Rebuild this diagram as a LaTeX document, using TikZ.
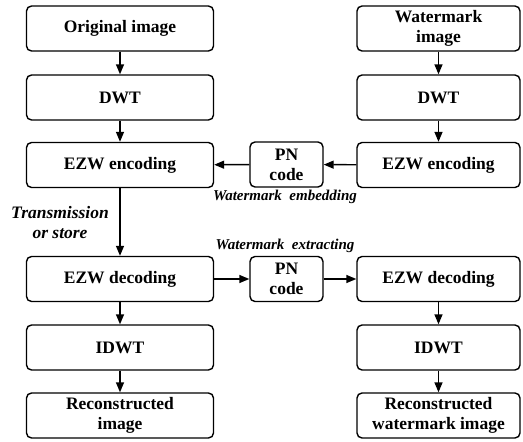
\documentclass[tikz,border=0pt]{standalone}
\usepackage{fontspec}
\setmainfont{Liberation Serif}
\usetikzlibrary{arrows.meta}

\begin{document}
\begin{tikzpicture}[x=1pt,y=-1pt,>={Triangle[length=10pt,width=8pt]},line width=1.4pt,
  box/.style={draw,rounded corners=5pt,align=center,minimum height=45pt,inner sep=0pt,
    font=\fontsize{17.5}{20}\selectfont\bfseries},
  lbox/.style={box,minimum width=187pt},
  rbox/.style={box,minimum width=163pt},
  pnbox/.style={box,minimum width=73pt},
  lbl/.style={align=center,inner sep=0pt,font=\fontsize{15}{20}\selectfont\bfseries\itshape}]
\useasboundingbox (0,0) rectangle (523,442);
\node[lbox] (orig) at (120,28.5) {Original image};
\node[lbox] (dwtL) at (120,97.5) {DWT};
\node[lbox] (encL) at (120,165) {EZW encoding};
\node[lbox] (decL) at (120,279) {EZW decoding};
\node[lbox] (idwtL) at (120,347.5) {IDWT};
\node[lbox] (recL) at (120,415.5) {Reconstructed\\image};
\node[rbox] (wm) at (438.5,28.5) {Watermark\\image};
\node[rbox] (dwtR) at (438.5,97.5) {DWT};
\node[rbox] (encR) at (438.5,165) {EZW encoding};
\node[rbox] (decR) at (438.5,279) {EZW decoding};
\node[rbox] (idwtR) at (438.5,347.5) {IDWT};
\node[rbox] (recR) at (438.5,415.5) {Reconstructed\\watermark image};
\node[pnbox] (pnE) at (286.5,164.5) {PN\\code};
\node[pnbox] (pnX) at (286.5,279) {PN\\code};
\node[lbl,font=\fontsize{17.5}{20}\selectfont\bfseries\itshape] (tx) at (60,223) {Transmission\\or store};
\node[lbl] (emb) at (285,197) {Watermark\ \ embedding};
\node[lbl] (ext) at (285,246) {Watermark\ \ extracting};
\draw[->] (orig) -- (dwtL);
\draw[->] (dwtL) -- (encL);
\draw[->] (encL) -- (decL);
\draw[->] (decL) -- (idwtL);
\draw[->] (idwtL) -- (recL);
\draw[->] (wm) -- (dwtR);
\draw[->] (dwtR) -- (encR);
\draw[->] (decR) -- (idwtR);
\draw[->] (idwtR) -- (recR);
\draw[->] (encR) -- (pnE);
\draw[->] (pnE) -- (encL);
\draw[->] (decL) -- (pnX);
\draw[->] (pnX) -- (decR);
\end{tikzpicture}
\end{document}
